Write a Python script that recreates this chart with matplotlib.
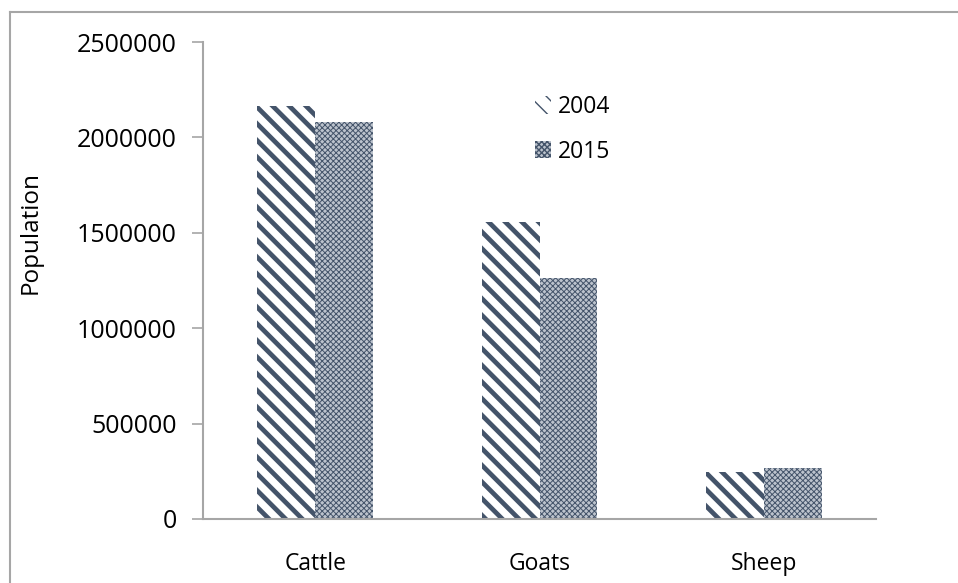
import matplotlib.pyplot as plt
import matplotlib as mpl
import numpy as np
from matplotlib.lines import Line2D

plt.rcParams['font.family'] = ['Open Sans', 'DejaVu Sans']

# Livestock population data
animals = ['Cattle', 'Goats', 'Sheep']
pop_2004 = [2164000, 1557000, 246000]
pop_2015 = [2081000, 1263000, 267000]
yticks = [0, 500000, 1000000, 1500000, 2000000, 2500000]

dark = '#44546A'
axis_gray = '#A6A6A6'

fig = plt.figure(figsize=(9.58, 5.83), dpi=100)
ax = fig.add_axes([203/958, 1-519/583, 673/958, 477/583])

x = np.arange(len(animals))
w = 0.258

# striped bars for 2004, fine checker-like hatch for 2015
with mpl.rc_context({'hatch.linewidth': 3.4, 'hatch.color': dark}):
    ax.bar(x - w/2, pop_2004, w, color='white', hatch='\\\\',
           edgecolor=dark, linewidth=0, label='2004')
with mpl.rc_context({'hatch.linewidth': 0.7, 'hatch.color': dark}):
    ax.bar(x + w/2, pop_2015, w, color='#bcc3cd', hatch='xxxxxx',
           edgecolor=dark, linewidth=0, label='2015')

ax.set_xlim(-0.5, 2.5)
ax.set_ylim(0, 2500000)
ax.set_yticks(yticks)
ax.set_yticklabels([str(v) for v in yticks], fontsize=18)
ax.set_xticks(x)
ax.set_xticklabels(animals, fontsize=16.5)
ax.tick_params(axis='x', length=0, pad=24)
ax.tick_params(axis='y', length=8, width=1.2, color=axis_gray, pad=11)

for s in ['top', 'right']:
    ax.spines[s].set_visible(False)
for s in ['left', 'bottom']:
    ax.spines[s].set_color(axis_gray)
    ax.spines[s].set_linewidth(1.5)

ax.set_ylabel('Population', fontsize=17.5)
ax.yaxis.set_label_coords(-0.239, 0.6)

ax.legend(loc='upper left', bbox_to_anchor=(535/958, 1-95/583),
          bbox_transform=fig.transFigure, frameon=False, fontsize=16.5,
          handlelength=0.7, handleheight=0.8, handletextpad=0.3,
          labelspacing=0.9, borderpad=0, borderaxespad=0)

# outer chart border (left and top)
fig.add_artist(Line2D([10/958, 10/958], [0, 1-12/583], color=axis_gray, lw=1.5,
                      transform=fig.transFigure))
fig.add_artist(Line2D([10/958, 1], [1-12/583, 1-12/583], color=axis_gray, lw=1.5,
                      transform=fig.transFigure))

fig.savefig('out.png', dpi=100)
